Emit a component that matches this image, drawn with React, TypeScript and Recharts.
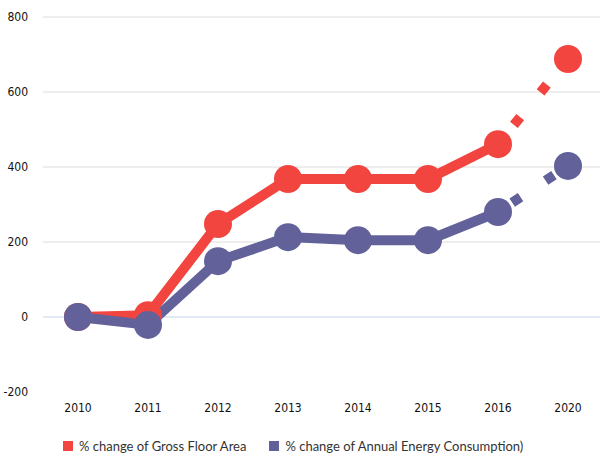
import React from "react";
import {
  LineChart,
  Line,
  XAxis,
  YAxis,
  ReferenceLine,
  Legend,
} from "recharts";

const years = ["2010", "2011", "2012", "2013", "2014", "2015", "2016", "2020"];
const floorArea = [0, 5, 248, 368, 368, 368, 461, null];
const energy = [0, -21, 149, 213, 205, 205, 280, null];
// projected part, 2016 -> 2020 (drawn dashed)
const floorAreaProj = [null, null, null, null, null, null, 461, 688];
const energyProj = [null, null, null, null, null, null, 280, 403];
const yTicks = [-200, 0, 200, 400, 600, 800];
const gridValues = [200, 400, 600, 800];

const RED = "#f2453f";
const BLUE = "#62619a";

const data = years.map((year, i) => ({
  year,
  floor: floorArea[i],
  energy: energy[i],
  floorProj: floorAreaProj[i],
  energyProj: energyProj[i],
}));

const legendItems = [
  { label: "% change of Gross Floor Area", color: RED },
  { label: "% change of Annual Energy Consumption)", color: BLUE },
];

function renderLegend() {
  return (
    <div
      style={{
        display: "flex",
        justifyContent: "flex-start",
        paddingLeft: 63,
        fontFamily: "Lato, sans-serif",
        fontSize: 13,
        color: "#333",
        height: 20,
        alignItems: "center",
      }}
    >
      {legendItems.map((item) => (
        <div
          key={item.label}
          style={{ display: "flex", alignItems: "center", marginRight: 23 }}
        >
          <span
            style={{
              width: 10,
              height: 10,
              background: item.color,
              display: "inline-block",
              marginRight: 6,
            }}
          />
          {item.label}
        </div>
      ))}
    </div>
  );
}

const tickStyle = {
  fontFamily: "'Liberation Sans Narrow', 'DejaVu Sans Condensed', sans-serif",
  fontSize: 12,
  fill: "#111",
};

export default function App() {
  return (
    <div style={{ position: "absolute", left: 0, top: 0, background: "#fff" }}>
      <LineChart
        width={600}
        height={456}
        data={data}
        margin={{ top: 17, right: 0, left: 0, bottom: 0 }}
      >
        <XAxis
          dataKey="year"
          axisLine={false}
          tickLine={false}
          tickSize={0}
          tickMargin={11}
          height={44}
          padding={{ left: 35, right: 32 }}
          tick={tickStyle}
        />
        <YAxis
          domain={[-200, 800]}
          ticks={yTicks}
          axisLine={false}
          tickLine={false}
          tickSize={0}
          tickMargin={15}
          width={43}
          tick={tickStyle}
        />
        {gridValues.map((v) => (
          <ReferenceLine key={v} y={v} stroke="#dcdcdc" strokeWidth={1} />
        ))}
        <ReferenceLine y={0} stroke="#c5d6ea" strokeWidth={1} />
        <Legend verticalAlign="bottom" content={renderLegend} />
        <Line
          dataKey="floorProj"
          stroke={RED}
          strokeWidth={10}
          strokeDasharray="0 25 10 32 10 200"
          dot={false}
          legendType="none"
          isAnimationActive={false}
        />
        <Line
          dataKey="energyProj"
          stroke={BLUE}
          strokeWidth={10}
          strokeDasharray="0 17 10 30 10 200"
          dot={false}
          legendType="none"
          isAnimationActive={false}
        />
        <Line
          dataKey="floor"
          stroke={RED}
          strokeWidth={10}
          dot={{ r: 14, fill: RED, stroke: "none" }}
          isAnimationActive={false}
        />
        <Line
          dataKey="floorProj"
          stroke="none"
          dot={(p: any) =>
            p.index === 7 ? (
              <circle key="r7" cx={p.cx} cy={p.cy} r={14} fill={RED} />
            ) : (
              <g key={"r" + p.index} />
            )
          }
          legendType="none"
          isAnimationActive={false}
        />
        <Line
          dataKey="energy"
          stroke={BLUE}
          strokeWidth={10}
          dot={{ r: 14, fill: BLUE, stroke: "none" }}
          isAnimationActive={false}
        />
        <Line
          dataKey="energyProj"
          stroke="none"
          dot={(p: any) =>
            p.index === 7 ? (
              <circle key="b7" cx={p.cx} cy={p.cy} r={14} fill={BLUE} />
            ) : (
              <g key={"b" + p.index} />
            )
          }
          legendType="none"
          isAnimationActive={false}
        />
      </LineChart>
    </div>
  );
}
